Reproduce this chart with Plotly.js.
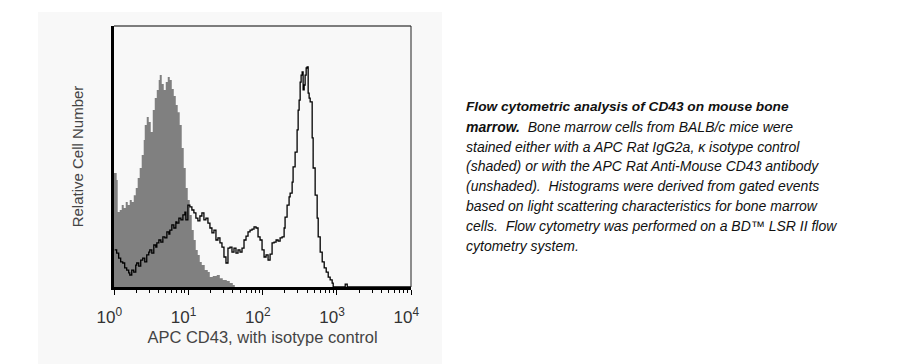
<!DOCTYPE html>
<html>
<head>
<meta charset="utf-8">
<script src="https://cdn.plot.ly/plotly-3.0.1.min.js"></script>
<style>html,body{margin:0;padding:0;background:#fff;}</style>
</head>
<body>
<div id="chart" style="width:910px;height:364px;"></div>
<script>
// log10 APC fluorescence intensity and relative counts, isotype control (shaded)
const isoLog = [0.000,0.009,0.036,0.050,0.077,0.104,0.131,0.158,0.185,0.212,0.239,0.266,0.293,0.319,0.346,0.373,0.400,0.414,0.441,0.468,0.495,0.522,0.549,0.576,0.602,0.616,0.643,0.670,0.697,0.724,0.751,0.778,0.805,0.832,0.858,0.885,0.912,0.939,0.966,0.993,1.020,1.047,1.074,1.101,1.128,1.155,1.182,1.222,1.263,1.290,1.330,1.384,1.425,1.465,1.519,1.559,1.600,1.627];
const isoCount = [43.7,43.7,41.0,28.7,29.5,31.4,30.3,32.6,31.4,33.3,32.6,35.2,37.9,41.8,45.6,50.6,56.3,62.1,65.1,63.2,59.4,67.8,72.4,75.5,79.3,81.2,77.8,75.5,78.5,80.5,79.3,75.9,73.2,69.7,67.0,62.1,53.3,45.6,37.9,33.3,27.6,21.8,18.0,14.2,12.3,9.6,8.4,6.5,5.7,3.8,4.2,4.6,3.4,2.7,2.3,1.5,0.8,0.0];

// CD43 antibody (unshaded)
const cd43Log = [0.009,0.036,0.063,0.090,0.117,0.144,0.171,0.198,0.212,0.239,0.266,0.293,0.306,0.333,0.360,0.387,0.414,0.441,0.468,0.482,0.509,0.536,0.563,0.577,0.604,0.631,0.658,0.685,0.712,0.739,0.752,0.779,0.806,0.833,0.847,0.874,0.901,0.928,0.955,0.968,0.995,1.022,1.049,1.076,1.103,1.130,1.157,1.184,1.211,1.238,1.265,1.292,1.319,1.346,1.373,1.400,1.427,1.454,1.481,1.508,1.535,1.562,1.589,1.616,1.643,1.670,1.697,1.724,1.751,1.778,1.805,1.832,1.859,1.886,1.913,1.940,1.967,1.994,2.021,2.048,2.075,2.102,2.129,2.156,2.183,2.210,2.237,2.264,2.291,2.304,2.331,2.358,2.372,2.399,2.412,2.439,2.466,2.480,2.493,2.507,2.520,2.534,2.547,2.561,2.574,2.588,2.601,2.615,2.628,2.642,2.669,2.682,2.709,2.736,2.750,2.777,2.804,2.831,2.858,2.885,2.911,2.938,2.952,2.992,3.100,3.114,3.141,4.000];
const cd43Count = [14.2,13.0,11.1,9.6,9.2,7.3,6.5,5.4,4.6,6.5,5.7,8.4,9.2,8.0,10.3,11.1,9.6,12.3,13.4,14.2,13.0,16.1,15.3,16.9,18.0,17.2,19.2,18.8,21.1,20.3,21.8,23.8,22.6,24.9,24.5,26.4,25.7,27.6,28.7,25.7,31.4,30.7,29.5,28.4,26.4,25.3,27.2,28.4,25.7,26.4,24.5,22.6,20.7,21.8,18.0,18.8,16.9,15.3,11.5,9.2,14.9,15.3,13.4,14.9,13.0,14.2,13.4,14.9,18.0,19.5,21.1,21.8,22.2,23.0,22.6,19.2,18.0,14.2,11.5,12.3,10.3,12.6,16.9,17.2,18.0,17.6,18.8,19.2,22.6,26.8,31.4,34.5,36.0,40.2,46.0,51.7,60.2,67.8,71.6,78.5,81.2,82.4,75.5,77.4,81.2,83.9,84.3,74.3,72.4,70.9,57.1,45.6,35.2,26.4,19.2,13.4,9.6,7.3,5.7,3.8,2.7,1.5,0.0,0.0,0.0,1.1,0.0,0.0];

const decades = [1, 10, 100, 1000, 10000];
const decadeLabels = ["10<sup>0</sup>","10<sup>1</sup>","10<sup>2</sup>","10<sup>3</sup>","10<sup>4</sup>"];

const captionLines = [
  "<b><i>Flow cytometric analysis of CD43 on mouse bone</i></b>",
  "<b><i>marrow.</i></b><i>\u00a0 Bone marrow cells from BALB/c mice were</i>",
  "<i>stained either with a APC Rat IgG2a, \u03ba isotype control</i>",
  "<i>(shaded) or with the APC Rat Anti-Mouse CD43 antibody</i>",
  "<i>(unshaded).\u00a0 Histograms were derived from gated events</i>",
  "<i>based on light scattering characteristics for bone marrow</i>",
  "<i>cells.\u00a0 Flow cytometry was performed on a BD\u2122 LSR II flow</i>",
  "<i>cytometry system.</i>"
];

const minorVals = [];
for (let d = 0; d < 4; d++) for (let k = 2; k <= 9; k++) minorVals.push(k * Math.pow(10, d));

const toLin = a => a.map(v => Math.pow(10, v));

const traces = [
  {
    x: toLin(isoLog), y: isoCount, type: 'scatter', mode: 'lines',
    line: {shape: 'hv', width: 0, color: '#808080'},
    fill: 'tozeroy', fillcolor: '#808080', hoverinfo: 'skip', showlegend: false
  },
  {
    x: toLin(cd43Log), y: cd43Count, type: 'scatter', mode: 'lines',
    line: {shape: 'hv', width: 1.3, color: '#000'},
    hoverinfo: 'skip', showlegend: false
  }
];

// plot area in pixels: left 114, right 411, top 26, bottom 287
const PL = 114, PR = 411, PT = 26, PB = 287;
const pw = PR - PL, ph = PB - PT;
const px = x => (x - PL) / pw;
const py = y => (PB - y) / ph;

const annotations = captionLines.map((t, i) => ({
  text: t, xref: 'paper', yref: 'paper',
  x: px(464), y: py(107 + 19.8 * i), xanchor: 'left', yanchor: 'middle',
  showarrow: false, align: 'left',
  font: {family: 'Liberation Sans, Arial, sans-serif', size: i === 0 ? 13.7 : 14, color: '#111'}
}));

const layout = {
  width: 910, height: 364,
  margin: {l: PL, r: 910 - PR, t: PT, b: 364 - PB},
  paper_bgcolor: '#ffffff',
  plot_bgcolor: 'rgba(0,0,0,0)',
  showlegend: false,
  font: {family: 'Liberation Sans, Arial, sans-serif', color: '#333'},
  xaxis: {
    type: 'log', range: [0, 4], fixedrange: true,
    showline: true, linewidth: 3, linecolor: '#000',
    showgrid: false, zeroline: false,
    ticks: 'outside', ticklen: 5, tickwidth: 1, tickcolor: '#000',
    tickmode: 'array', tickvals: decades,
    ticktext: decadeLabels.map(s => s + '\u00a0\u00a0'),
    ticklabelstandoff: 8,
    tickfont: {size: 17, color: '#333'},
    minor: {tickmode: 'array', tickvals: minorVals, ticks: 'outside', ticklen: 3, tickwidth: 1, tickcolor: '#000', showgrid: false},
    title: {text: 'APC CD43, with isotype control', font: {size: 16.5, color: '#444'}, standoff: 6}
  },
  yaxis: {
    range: [0, 100], fixedrange: true,
    showline: true, linewidth: 3, linecolor: '#000',
    showgrid: false, zeroline: false, ticks: '', showticklabels: false,
    title: {text: 'Relative Cell Number', font: {size: 15, color: '#444'}, standoff: 24}
  },
  shapes: [
    {type: 'rect', xref: 'paper', yref: 'paper', layer: 'below',
     x0: px(38), x1: px(442), y0: py(364), y1: py(12),
     fillcolor: '#f8f8f8', line: {width: 0}},
    {type: 'line', xref: 'paper', yref: 'paper', x0: 0, x1: 1, y0: 1, y1: 1,
     line: {color: '#555', width: 1.5}},
    {type: 'line', xref: 'paper', yref: 'paper', x0: 1, x1: 1, y0: 0, y1: 1,
     line: {color: '#222', width: 1}}
  ],
  annotations: annotations
};

Plotly.newPlot('chart', traces, layout, {staticPlot: true, displayModeBar: false});
</script>
</body>
</html>
